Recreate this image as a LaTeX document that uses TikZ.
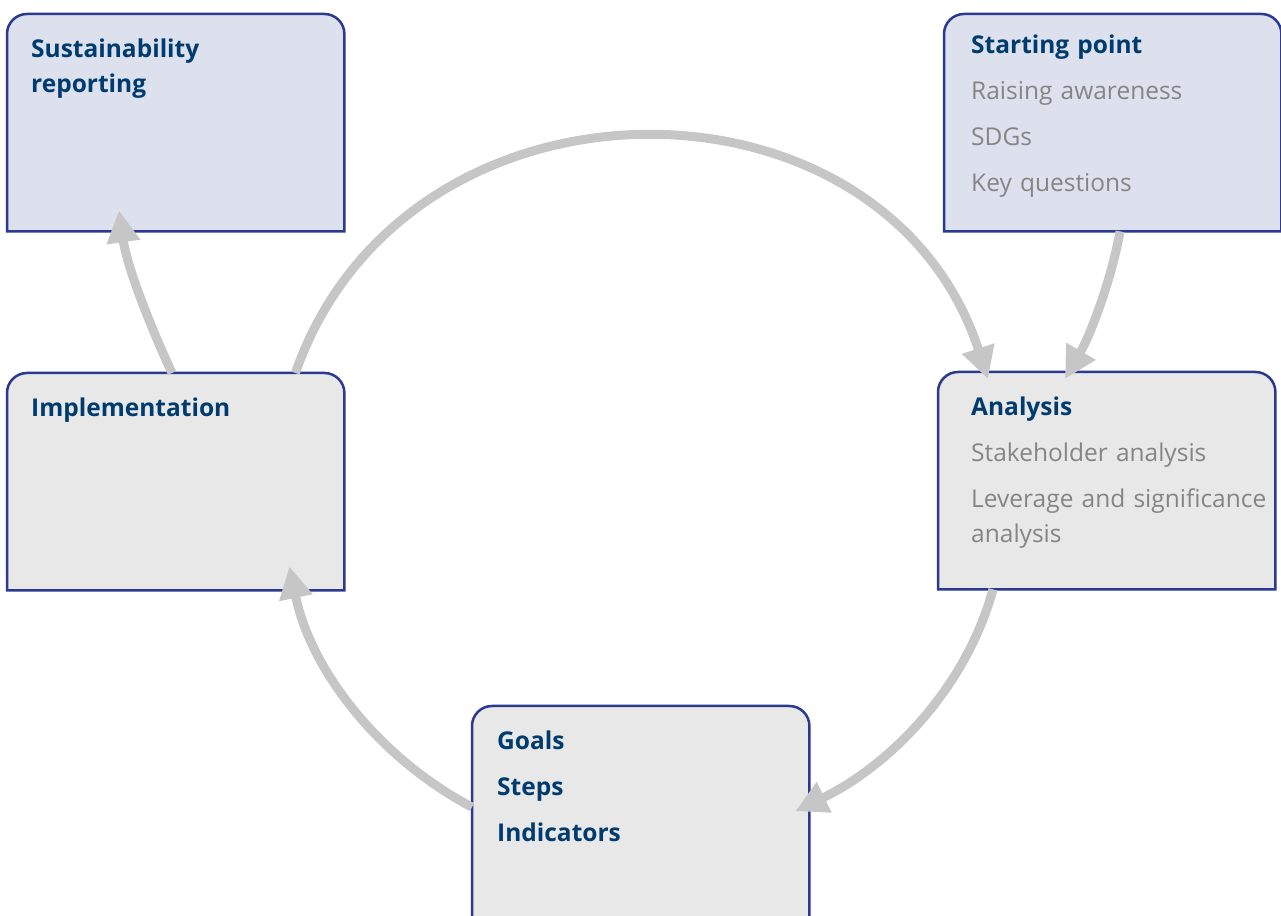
\documentclass[tikz,border=0pt]{standalone}
\usepackage{fontspec}
\setmainfont{Open Sans}
\usetikzlibrary{arrows.meta,backgrounds}

\definecolor{cardline}{HTML}{2B3990}
\definecolor{cardblue}{HTML}{DDE1ED}
\definecolor{cardgrey}{HTML}{E8E8E8}
\definecolor{headblue}{HTML}{003B6F}
\definecolor{itemgrey}{HTML}{858585}
\definecolor{flowgrey}{HTML}{C6C6C6}

\newcommand\cardhead[1]{{\bfseries\color{headblue}#1}}
\newcommand\carditem[1]{{\color{itemgrey}#1}}

\tikzset{
  card/.style={anchor=north west, inner sep=0pt, text width=337pt,
    text height=43pt, text depth=174pt,
    font=\fontsize{24.5}{35}\selectfont,
    execute at begin node={\leftskip=24pt\rightskip=0pt plus 1fil}},
  inset/.style={execute at begin node={\leftskip=#1}},
  flow/.style={draw=flowgrey, line width=9pt,
    -{Triangle[length=32pt,width=32pt]}},
}

\begin{document}
\begin{tikzpicture}[x=1pt,y=1pt]
\useasboundingbox (0,0) rectangle (1281,915);

\node[card] (sust) at (7,901) {\cardhead{Sustainability\\reporting}};
\node[card, inset=27pt, text height=39pt, text depth=178pt] (start) at (944,901)
  {\cardhead{Starting point}\\[11pt]\carditem{Raising awareness}\\[11pt]\carditem{SDGs}\\[11pt]\carditem{Key questions}};

\node[card] (impl) at (7,542) {\cardhead{Implementation}};
\node[card, inset=33pt] (ana) at (938,543)
  {\cardhead{Analysis}\\[11pt]\carditem{Stakeholder analysis}\\[11pt]\carditem{Leverage and significance\\analysis}};

\node[card, inset=25pt] (goal) at (472,209)
  {\cardhead{Goals}\\[11pt]\cardhead{Steps}\\[11pt]\cardhead{Indicators}};

% card outlines, only the top corners are rounded
\begin{scope}[on background layer]
\clip (0,0) rectangle (1281,915);
\foreach \n/\c in {sust/cardblue,start/cardblue,impl/cardgrey,ana/cardgrey,goal/cardgrey}
  \draw[cardline, line width=2.5pt, fill=\c] (\n.south west)
    -- ([yshift=-20pt]\n.north west) arc[start angle=180, end angle=90, radius=20pt]
    -- ([xshift=-20pt]\n.north east) arc[start angle=90, end angle=0, radius=20pt]
    -- (\n.south east) -- cycle;
\end{scope}

% the cycle
\draw[flow] ([xshift=-49pt]impl.north east) .. controls +(70.8:335) and +(108:335) .. ([xshift=50pt,yshift=-7pt]ana.north west);
\draw[flow] ([xshift=55pt]ana.south west) .. controls +(-105.4:104) and +(25.9:104) .. ([xshift=-14pt,yshift=3.5pt]goal.east);
\draw[flow] ([yshift=7.5pt]goal.west) .. controls +(152.1:106) and +(-78.3:106) .. ([xshift=-55pt,yshift=24pt]impl.south east);

% side arrows
\draw[flow] ([xshift=165pt]impl.north west) .. controls +(115:55) and +(-82:55) .. ([xshift=112pt,yshift=21pt]sust.south west);
\draw[flow] ([xshift=176pt]start.south west) .. controls +(-100:50) and +(60:50) .. ([xshift=127pt,yshift=-7pt]ana.north west);

\end{tikzpicture}
\end{document}
